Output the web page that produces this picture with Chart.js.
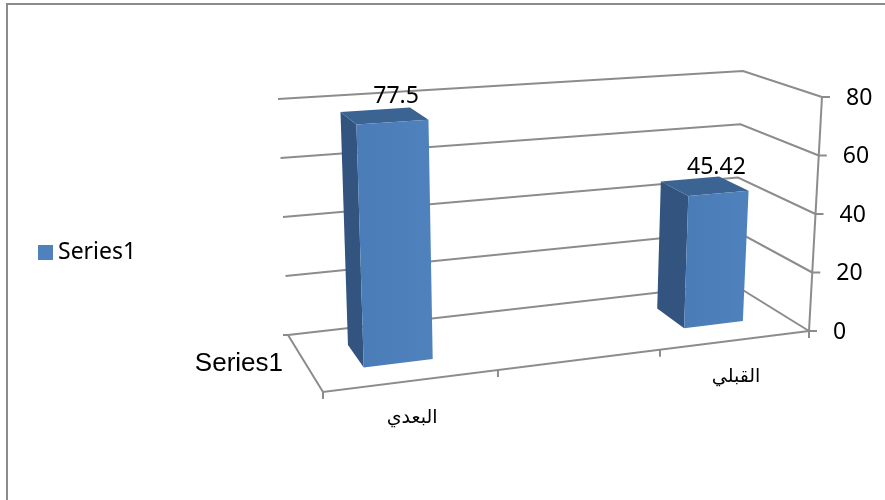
<!DOCTYPE html>
<html>
<head>
<meta charset="utf-8">
<script src="https://cdn.jsdelivr.net/npm/chart.js@4"></script>
<style>
  html, body { margin: 0; padding: 0; background: #fff; }
  canvas { display: block; }
</style>
</head>
<body>
<canvas id="chart" width="885" height="500"></canvas>
<script>
const categories = ['البعدي', '', 'القبلي'];
const seriesValues = [77.5, null, 45.42];
const seriesName = 'Series1';
const yTicks = [0, 20, 40, 60, 80];

const GREY = '#8c8c8c';
const BLUE = '#4f81bd';
const TICK_FONT = '23px "Noto Sans"';

// Screen corners of the 3D box
const box = {
  frontBottom: [[323, 392], [809, 331]],
  frontTop: [[313, 130], [822, 97]],
  backBottom: [[288, 335], [733, 284]],
  backTop: [[278, 99], [743, 71]]
};

const BAR_NEAR = 0.32;
const BAR_FAR = 0.72;

function mix(a, b, t) {
  return [a[0] + (b[0] - a[0]) * t, a[1] + (b[1] - a[1]) * t];
}

// u across the categories, v up the value axis, d into the picture
function project(u, v, d) {
  const w = u + 0.12 * u * (1 - u); // perspective squeezes the far right end
  const bottom = mix(mix(box.frontBottom[0], box.frontBottom[1], w), mix(box.backBottom[0], box.backBottom[1], w), d);
  const top = mix(mix(box.frontTop[0], box.frontTop[1], w), mix(box.backTop[0], box.backTop[1], w), d);
  return mix(bottom, top, v);
}

function line(ctx, points, color, width) {
  ctx.beginPath();
  points.forEach((p, i) => (i ? ctx.lineTo(p[0], p[1]) : ctx.moveTo(p[0], p[1])));
  ctx.strokeStyle = color;
  ctx.lineWidth = width;
  ctx.stroke();
}

function face(ctx, points, fill) {
  ctx.beginPath();
  points.forEach((p, i) => (i ? ctx.lineTo(p[0], p[1]) : ctx.moveTo(p[0], p[1])));
  ctx.closePath();
  ctx.fillStyle = fill;
  ctx.fill();
}

const box3d = {
  id: 'box3d',
  beforeDatasetsDraw(chart) {
    const { ctx, chartArea: area, scales } = chart;
    const toU = px => (px - area.left) / area.width;
    const toV = py => (area.bottom - py) / area.height;

    ctx.save();

    // outer frame of the pasted picture
    line(ctx, [[7, 500], [7, 4], [885, 4]], GREY, 2);

    // legend, placed by hand because the built-in one leaves too wide a gap
    ctx.fillStyle = BLUE;
    ctx.fillRect(38, 245, 15, 15);
    ctx.fillStyle = '#000';
    ctx.textBaseline = 'middle';
    ctx.textAlign = 'left';
    ctx.font = '23px "Noto Sans"';
    ctx.fillText(seriesName, 58, 252);

    // grid lines on back and side wall, axis ticks and labels
    ctx.font = TICK_FONT;
    scales.y.ticks.forEach(t => {
      const v = toV(scales.y.getPixelForValue(t.value));
      const front = project(1, v, 0);
      line(ctx, [project(0, v, 1), project(1, v, 1), front], GREY, 2);
      line(ctx, [front, [front[0] + 8, front[1]]], GREY, 2);
      ctx.fillStyle = '#000';
      ctx.fillText(String(t.value), front[0] + 24, front[1] + 1);
    });

    // floor edges and value axis
    const backCorner = project(0, 0, 1);
    line(ctx, [[backCorner[0] - 5, backCorner[1]], backCorner, project(0, 0, 0), project(1, 0, 0)], GREY, 2);
    line(ctx, [project(1, 0, 0), project(1, 1, 0)], GREY, 2);
    for (let i = 0; i <= categories.length; i++) {
      const p = project(i / categories.length, 0, 0);
      line(ctx, [p, [p[0], p[1] + 7]], GREY, 2);
    }

    // category labels under the front edge
    ctx.textAlign = 'center';
    ctx.font = '19px "DejaVu Sans"';
    ctx.fillStyle = '#000';
    categories.forEach((label, i) => {
      const p = project(toU(scales.x.getPixelForValue(i)), 0, 0);
      ctx.fillText(label, p[0], p[1] + 37);
    });

    // series name on the depth axis
    ctx.textAlign = 'right';
    ctx.font = '26px "Liberation Sans"';
    ctx.fillText(seriesName, 283, 364);

    // columns, read from the bar elements Chart.js laid out
    chart.getDatasetMeta(0).data.forEach((bar, i) => {
      if (seriesValues[i] === null) return;
      const u0 = toU(bar.x - bar.width / 2);
      const u1 = toU(bar.x + bar.width / 2);
      const v = toV(bar.y);

      const fb0 = project(u0, 0, BAR_NEAR), fb1 = project(u1, 0, BAR_NEAR);
      const ft0 = project(u0, v, BAR_NEAR), ft1 = project(u1, v, BAR_NEAR);
      const bb0 = project(u0, 0, BAR_FAR);
      const bt0 = project(u0, v, BAR_FAR), bt1 = project(u1, v, BAR_FAR);

      face(ctx, [bb0, bt0, ft0, fb0], '#32547e');
      face(ctx, [bt0, bt1, ft1, ft0], '#3c6492');
      const grad = ctx.createLinearGradient(ft0[0], 0, ft1[0], 0);
      grad.addColorStop(0, '#4a7cb8');
      grad.addColorStop(1, BLUE);
      face(ctx, [fb0, ft0, ft1, fb1], grad);

      // value sits above the top face
      const c = project((u0 + u1) / 2, v, (BAR_NEAR + BAR_FAR) / 2);
      ctx.textAlign = 'center';
      ctx.font = TICK_FONT;
      ctx.fillStyle = '#000';
      ctx.fillText(String(seriesValues[i]), c[0] + 12, c[1] - 19);
    });

    ctx.restore();
    return false; // flat bars are replaced by the columns above
  }
};

new Chart(document.getElementById('chart').getContext('2d'), {
  type: 'bar',
  data: {
    labels: categories,
    datasets: [{
      label: seriesName,
      data: seriesValues,
      backgroundColor: BLUE,
      categoryPercentage: 1,
      barPercentage: 0.405
    }]
  },
  options: {
    responsive: false,
    animation: false,
    layout: { padding: { left: 140, right: 76, top: 4, bottom: 0 } },
    scales: {
      x: { ticks: { display: false }, grid: { display: false }, border: { display: false } },
      y: {
        position: 'right',
        min: yTicks[0],
        max: yTicks[yTicks.length - 1],
        ticks: { display: false, stepSize: 20 },
        grid: { display: false },
        border: { display: false }
      }
    },
    plugins: {
      tooltip: { enabled: false },
      legend: { display: false }
    }
  },
  plugins: [box3d]
});
</script>
</body>
</html>
